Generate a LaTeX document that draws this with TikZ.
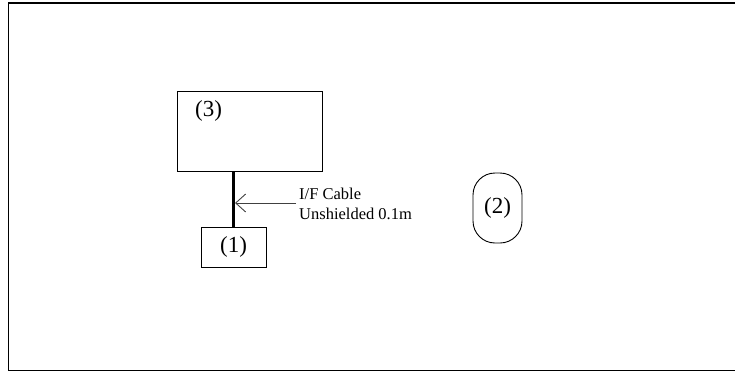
\documentclass[tikz,border=0pt]{standalone}
\usepackage{fontspec}
\setmainfont{Liberation Serif}
\usetikzlibrary{arrows.meta}
\begin{document}
\begin{tikzpicture}[x=1pt,y=-1pt,
  box/.style={draw,line width=0.9pt,inner sep=0pt},
  num/.style={font=\fontsize{23}{26}\selectfont,inner sep=0pt},
  lbl/.style={font=\fontsize{16.5}{19.5}\selectfont,align=left,inner sep=0pt},
  cable/.style={line width=3pt},
  pointer/.style={draw=black!75,line width=0.9pt,-{Straight Barb[length=10pt,width=18pt,line width=0.9pt]}}]
\useasboundingbox (0,0) rectangle (735,372);
\begin{scope}
\clip (0,0) rectangle (735,372);
\draw[line width=1.8pt] (8.5,3.3) rectangle (745,370.5);
\end{scope}
\node[box,minimum width=145pt,minimum height=80pt] (b3) at (249.5,131) {};
\node[num] (t3) at (208.5,111) {(3)};
\node[box,minimum width=65pt,minimum height=40pt] (b1) at (233.5,247) {};
\node[num] at (b1.center) (t1) {(1)};
\draw[cable] (b1.north |- b3.south) -- (b1.north);
\coordinate (hit) at (235,203);
\node[lbl,anchor=west] (cl) at (299,204) {I/F Cable\\Unshielded 0.1m};
\draw[pointer] (cl.west |- hit) ++(-3,0) -- (hit);
\node[box,rounded corners=22pt,minimum width=49pt,minimum height=70pt] (b2) at (497.5,208) {};
\node[num] at (b2.center) (t2) {(2)};
\end{tikzpicture}
\end{document}
